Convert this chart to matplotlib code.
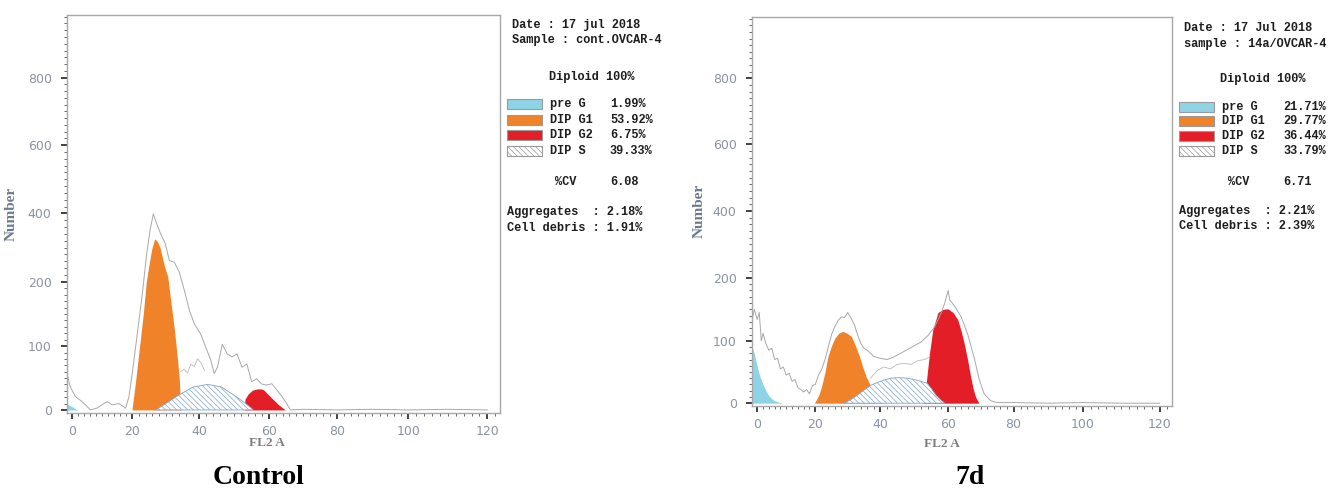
import numpy as np
import matplotlib
matplotlib.use("Agg")
import matplotlib.pyplot as plt
from matplotlib.patches import Rectangle
from matplotlib.ticker import FixedLocator

# ---- data ----
# Control
ctrl_raw_x = [-1.8, -0.7, 1, 2.7, 4.4, 6, 8.3, 10.5, 11.6, 13.3, 15.5, 17.8, 18.9, 20, 21.5, 23, 24.3,
              25.3, 26.3, 27.3, 28.3, 29.9, 31.1, 32.6, 34.1, 35.6, 37.1, 38.6, 40.4, 41.9, 43.3, 44.3,
              45.2, 46.6, 48, 49.4, 50.8, 52.2, 53.6, 55, 56.4, 57.7, 59.1, 60.8, 62.3, 63.8, 64.8,
              66.3, 70, 80, 90, 100, 110, 120]
ctrl_raw_y = [57, 36, 21, 15, 8, 0, 3, 10, 13, 8, 10, 3, 21, 57, 119, 181, 281,
              350, 399, 370, 345, 311, 262, 257, 227, 186, 155, 134, 119, 98, 78, 57,
              67, 103, 88, 83, 88, 67, 72, 44, 49, 41, 39, 41, 31, 21, 13,
              0, 1, 0, 1, 0, 1, 0]
ctrl_raw2_x = [34.5, 35.5, 36.5, 37.5, 38.5, 39.5, 40.5, 41.5]
ctrl_raw2_y = [60, 64, 58, 72, 68, 80, 74, 62]
ctrl_preg_x = [-1.8, -1, 0, 1, 2]
ctrl_preg_y = [10, 7, 5, 2, 0]
ctrl_g1_x = [19.9, 21, 22.2, 23.3, 24.2, 25, 25.8, 26.7, 27.5, 28.3, 29.5, 30.6, 31.5, 32.6, 33.5,
             34.1, 34.3, 34.6]
ctrl_g1_y = [0, 45, 100, 150, 200, 250, 295, 326, 318, 300, 250, 215, 170, 125, 80, 45, 20, 0]
ctrl_s_x = [27, 30, 33.8, 38.2, 42.5, 46.3, 50, 53.3, 55.5]
ctrl_s_y = [0, 10, 23, 36, 40, 36, 23, 10, 0]
ctrl_g2_x = [52.8, 53.1, 54, 55.2, 56.6, 57.7, 58.5, 60.3, 62.8, 64.8]
ctrl_g2_y = [0, 17, 25, 31, 33, 33, 31, 21, 8, 0]

# 7d
d7_raw_x = [-1.5, -1, 0, 0.7, 1.4, 2, 3, 4, 5, 6, 7, 8, 9, 10, 11, 12, 13, 14, 15, 16, 17, 18, 19,
            20, 21, 22, 23, 24, 25, 26, 27, 28, 29, 30, 31, 32, 33, 34, 35, 36, 38, 40, 42, 44, 46,
            48, 50, 52, 54, 56, 58, 59, 60, 60.5, 62, 64, 66, 68, 69.5, 71, 73, 75, 80, 90, 100,
            110, 120]
d7_raw_y = [139, 150, 134, 145, 100, 112, 95, 85, 88, 70, 72, 55, 58, 45, 48, 35, 38, 25, 22, 18,
            22, 15, 28, 30, 45, 55, 70, 90, 110, 122, 132, 138, 137, 145, 136, 126, 110, 96, 88,
            85, 75, 72, 70, 74, 80, 86, 92, 98, 108, 122, 145, 160, 180, 165, 155, 138, 110, 72,
            38, 15, 4, 1, 1, 0, 1, 0, 0]
d7_raw2_x = [37, 39, 41, 43, 45, 47, 49, 51, 53, 54.5]
d7_raw2_y = [40, 52, 58, 55, 62, 64, 62, 68, 70, 74]
d7_preg_x = [-1.8, -1, 0, 1, 2, 3, 4, 5, 6, 7, 8, 9]
d7_preg_y = [90, 80, 58, 42, 30, 20, 12, 7, 4, 2, 1, 0]
d7_g1_x = [19.7, 21, 21.9, 23, 23.9, 25, 26, 27.2, 28.5, 29.8, 31.1, 32.3, 33.6, 34.6, 35.7, 37.2,
           38.5, 40, 41]
d7_g1_y = [0, 12, 26, 50, 75, 92, 104, 112, 115, 112, 107, 93, 75, 58, 42, 26, 14, 5, 0]
d7_s_x = [28.9, 31, 33, 35, 37.2, 39, 41, 43, 45.5, 48, 50, 52, 53.8, 55, 56.4, 57.7, 59]
d7_s_y = [0, 6, 13, 21, 29, 33, 37, 40, 41, 40, 38, 35, 32, 24, 13, 6, 0]
d7_g2_x = [52.5, 53.2, 53.6, 54.5, 55.5, 57, 58.5, 59.9, 61.5, 62.9, 64, 64.9, 66, 66.9, 67.7,
           68.4, 69.4]
d7_g2_y = [0, 20, 35, 80, 118, 145, 150, 151, 145, 134, 115, 96, 68, 42, 22, 10, 0]

legend_names = ["pre G", "DIP G1", "DIP G2", "DIP S"]
ctrl_pct = ["1.99%", "53.92%", "6.75%", "39.33%"]
d7_pct = ["21.71%", "29.77%", "36.44%", "33.79%"]

# the instrument axes are not evenly spaced; calibrate them from the tick labels
X_KNOTS = [-20, 0, 20, 40, 60, 80, 100, 120, 140]
X_POS = [-59, 0, 59, 125, 194, 260.5, 331, 409, 487]
Y_KNOTS = [-200, 0, 100, 200, 400, 600, 800, 1000, 1200]
Y_POS = [-126.5, 0, 63, 126.5, 194, 261.5, 328, 395, 462]

C_PREG = "#8fd4e6"
C_G1 = "#f0822a"
C_G2 = "#e31e26"
C_HATCH = "#7fa3cc"
C_RAW = "#a8a8a8"
HATCH = "\\" * 6

W, H = 1336, 491
plt.rcParams["hatch.linewidth"] = 0.5
fig = plt.figure(figsize=(W / 100, H / 100), dpi=100)


def xf(v):
    return np.interp(v, X_KNOTS, X_POS)


def xi(v):
    return np.interp(v, X_POS, X_KNOTS)


def yf(v):
    return np.interp(v, Y_KNOTS, Y_POS)


def yi(v):
    return np.interp(v, Y_POS, Y_KNOTS)


def draw_panel(rect, raw, raw2, preg, g1, s, g2, label_xy, numlab_x):
    ax = fig.add_axes(rect)
    ax.set_xscale("function", functions=(xf, xi))
    ax.set_yscale("function", functions=(yf, yi))

    ax.fill_between(preg[0], preg[1], color=C_PREG, lw=0)
    ax.fill_between(g1[0], g1[1], color=C_G1, lw=0)
    ax.fill_between(g2[0], g2[1], color=C_G2, lw=0)
    ax.fill_between(s[0], s[1], facecolor="white", edgecolor=C_HATCH, hatch=HATCH, lw=0.6)
    ax.plot(raw[0], raw[1], color=C_RAW, lw=0.7)
    ax.plot(raw2[0], raw2[1], color=C_RAW, lw=0.6, alpha=0.8)

    ax.set_xlim(-1.8, 123.2)
    ax.set_ylim(-4, 985)

    ax.xaxis.set_major_locator(FixedLocator([0, 20, 40, 60, 80, 100, 120]))
    ax.xaxis.set_minor_locator(FixedLocator(np.arange(0, 124, 2)))
    ax.yaxis.set_major_locator(FixedLocator([0, 100, 200, 400, 600, 800]))
    ax.yaxis.set_minor_locator(FixedLocator(list(range(0, 200, 10)) + list(range(200, 985, 20))))
    ax.xaxis.set_major_formatter(lambda v, p: f"{v:.0f}")
    ax.yaxis.set_major_formatter(lambda v, p: f"{v:.0f}")

    ax.tick_params(which="major", length=4, width=1.3, color="#333333", labelcolor="#8a93a0",
                   labelsize=9)
    ax.tick_params(axis="y", which="major", pad=7)
    ax.tick_params(axis="x", which="major", pad=5)
    ax.tick_params(which="minor", length=2.5, width=0.7, color="#666666")
    for sp in ax.spines.values():
        sp.set_color("#a8a8a8")
        sp.set_linewidth(1.0)

    ax.set_ylabel("Number", family="Liberation Serif", fontweight="bold", color="#6b7a8f",
                  fontsize=11)
    ax.yaxis.set_label_coords(numlab_x, 0.5)
    ax.set_xlabel("FL2 A", family="Liberation Serif", fontweight="bold", color="#7d7d7d",
                  fontsize=9.5)
    ax.xaxis.set_label_coords(*label_xy)
    return ax


def fx(px):
    return px / W


def fy(py):
    return 1 - py / H


mono = dict(family="Liberation Mono", fontsize=8.6, color="#1e1e1e", va="center",
            fontweight="bold")


def info_block(x0, rows, header, pct, cv, agg, debris, patch_x, name_x, val_x, cv_x, dip_x):
    fig.text(fx(x0), fy(rows[0]), header[0], **mono)
    fig.text(fx(x0), fy(rows[1]), header[1], **mono)
    fig.text(fx(dip_x), fy(rows[2]), "Diploid 100%", **mono)
    colours = [C_PREG, C_G1, C_G2, "white"]
    for i in range(4):
        yy = rows[3 + i]
        rect = Rectangle((fx(patch_x), fy(yy + 5)), 35 / W, 10 / H, transform=fig.transFigure,
                         facecolor=colours[i], edgecolor="#9a9a9a", lw=0.8,
                         hatch=HATCH if i == 3 else None)
        fig.add_artist(rect)
        fig.text(fx(name_x), fy(yy), legend_names[i], **mono)
        fig.text(fx(val_x), fy(yy), pct[i], **mono)
    fig.text(fx(cv_x), fy(rows[7]), "%CV", **mono)
    fig.text(fx(val_x), fy(rows[7]), cv, **mono)
    fig.text(fx(patch_x), fy(rows[8]), "Aggregates  : " + agg, **mono)
    fig.text(fx(patch_x), fy(rows[9]), "Cell debris : " + debris, **mono)


# left panel (Control)
draw_panel([67 / W, 1 - 412.5 / H, 433 / W, 397.5 / H],
           (ctrl_raw_x, ctrl_raw_y), (ctrl_raw2_x, ctrl_raw2_y), (ctrl_preg_x, ctrl_preg_y),
           (ctrl_g1_x, ctrl_g1_y), (ctrl_s_x, ctrl_s_y), (ctrl_g2_x, ctrl_g2_y),
           (0.462, -0.062), -0.115)
info_block(512, [25, 40, 77, 104, 120, 135, 151, 182, 212, 228],
           ("Date : 17 jul 2018", "Sample : cont.OVCAR-4"), ctrl_pct, "6.08", "2.18%", "1.91%",
           patch_x=507, name_x=550, val_x=610, cv_x=555, dip_x=549)
fig.text(fx(259), fy(478), "Control", family="Liberation Serif", fontweight="bold",
         fontsize=20, ha="center", va="center")

# right panel (7d)
draw_panel([752 / W, 1 - 405.7 / H, 420 / W, 388.7 / H],
           (d7_raw_x, d7_raw_y), (d7_raw2_x, d7_raw2_y), (d7_preg_x, d7_preg_y),
           (d7_g1_x, d7_g1_y), (d7_s_x, d7_s_y), (d7_g2_x, d7_g2_y),
           (0.452, -0.083), -0.11)
info_block(1184, [28, 44, 79, 107, 121, 136, 151, 182, 211, 226],
           ("Date : 17 Jul 2018", "sample : 14a/OVCAR-4"), d7_pct, "6.71", "2.21%", "2.39%",
           patch_x=1179, name_x=1222, val_x=1283, cv_x=1228, dip_x=1220)
fig.text(fx(970), fy(478), "7d", family="Liberation Serif", fontweight="bold",
         fontsize=20, ha="center", va="center")

fig.savefig("out.png", dpi=100)
